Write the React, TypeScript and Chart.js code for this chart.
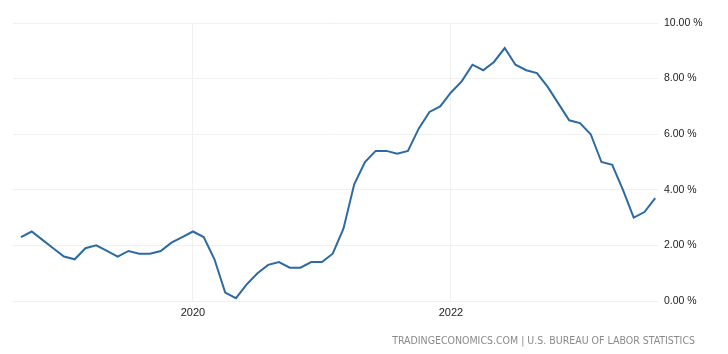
import React, { useEffect, useRef } from "react";
import { Chart, registerables } from "chart.js";

Chart.register(...registerables);

// Monthly US inflation rate (%), Sep 2018 – Aug 2023
const startMonthOffset = -16; // Sep 2018 relative to Jan 2020
const inflation: number[] = [
  2.3, 2.5, 2.2, 1.9,
  1.6, 1.5, 1.9, 2.0, 1.8, 1.6, 1.8, 1.7, 1.7, 1.8, 2.1, 2.3,
  2.5, 2.3, 1.5, 0.3, 0.1, 0.6, 1.0, 1.3, 1.4, 1.2, 1.2, 1.4,
  1.4, 1.7, 2.6, 4.2, 5.0, 5.4, 5.4, 5.3, 5.4, 6.2, 6.8, 7.0,
  7.5, 7.9, 8.5, 8.3, 8.6, 9.1, 8.5, 8.3, 8.2, 7.7, 7.1, 6.5,
  6.4, 6.0, 5.0, 4.9, 4.0, 3.0, 3.2, 3.7,
];
const xTickValues: number[] = [0, 24];
const xTickLabels: string[] = ["2020", "2022"];
const yTickValues: number[] = [0, 2, 4, 6, 8, 10];
const sourceText = "TRADINGECONOMICS.COM | U.S. BUREAU OF LABOR STATISTICS";

export default function App() {
  const canvasRef = useRef<HTMLCanvasElement | null>(null);

  useEffect(() => {
    if (!canvasRef.current) return;
    const points = inflation.map((v, i) => ({ x: startMonthOffset + i, y: v }));
    const chart = new Chart(canvasRef.current, {
      type: "line",
      data: {
        datasets: [
          {
            data: points,
            borderColor: "#2c6aa2",
            borderWidth: 2,
            pointRadius: 0,
            tension: 0,
            fill: false,
          },
        ],
      },
      options: {
        animation: false,
        responsive: true,
        maintainAspectRatio: false,
        layout: { padding: { left: 13, top: 23, right: 0, bottom: 0 } },
        plugins: { legend: { display: false }, tooltip: { enabled: false } },
        scales: {
          x: {
            type: "linear",
            min: -16.74,
            max: 43.26,
            afterBuildTicks: (scale: any) => {
              scale.ticks = xTickValues.map((v) => ({ value: v }));
            },
            afterFit: (scale: any) => {
              scale.height = 53;
            },
            border: { display: false },
            grid: { color: "#f0f0f0", lineWidth: 1, drawTicks: false },
            ticks: {
              padding: 5,
              color: "#222222",
              font: { family: "'Liberation Sans', Arial, sans-serif", size: 11 },
              callback: (v: any) => {
                const idx = xTickValues.indexOf(Number(v));
                return idx >= 0 ? xTickLabels[idx] : "";
              },
              maxRotation: 0,
            },
          },
          y: {
            position: "right",
            min: 0,
            max: 10,
            afterBuildTicks: (scale: any) => {
              scale.ticks = yTickValues.map((v) => ({ value: v }));
            },
            afterFit: (scale: any) => {
              scale.width = 70;
            },
            border: { display: false },
            grid: { color: "#f0f0f0", lineWidth: 1, drawTicks: false },
            ticks: {
              padding: 6,
              color: "#222222",
              font: { family: "'Liberation Sans', Arial, sans-serif", size: 10.5 },
              callback: (v: any) => Number(v).toFixed(2) + " %",
            },
          },
        },
      },
    });
    return () => chart.destroy();
  }, []);

  return (
    <div style={{ position: "fixed", left: 0, top: 0, width: 728, height: 354, background: "#fff" }}>
      <canvas ref={canvasRef} />
      <div
        style={{
          position: "absolute",
          right: 33,
          top: 333,
          fontFamily: "'DejaVu Sans Condensed', 'DejaVu Sans', sans-serif",
          fontSize: 10.5,
          color: "#8a8a8a",
          whiteSpace: "nowrap",
          lineHeight: "14px",
        }}
      >
        {sourceText}
      </div>
    </div>
  );
}
